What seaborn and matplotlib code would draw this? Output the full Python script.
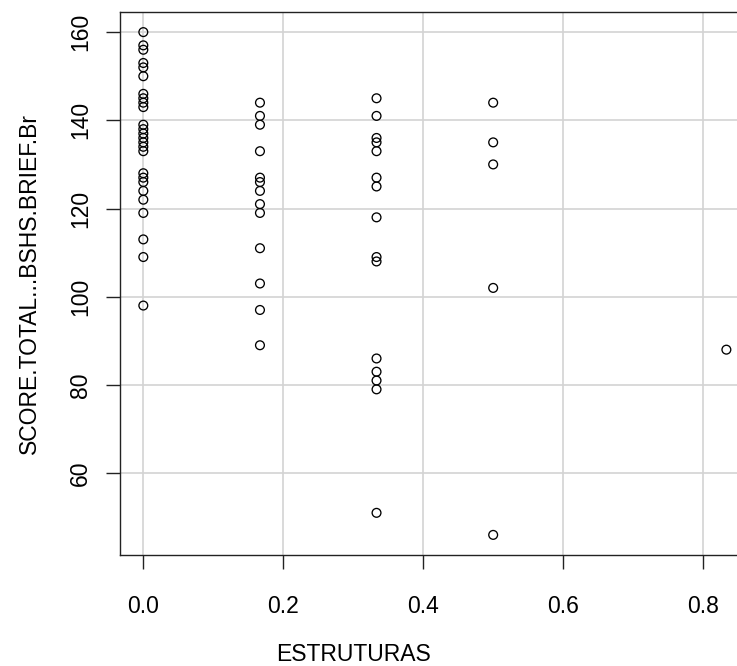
import matplotlib
matplotlib.use("Agg")
import matplotlib.pyplot as plt
import seaborn as sns
import pandas as pd

# ---- data ----
estruturas_levels = [0.0, 0.1667, 0.3333, 0.5, 0.8333]
score_0 = [160, 157, 156, 153, 152, 150, 146, 145, 144, 143, 139, 138, 137, 136,
           135, 134, 133, 128, 127, 126, 124, 122, 119, 113, 109, 98]
score_1 = [144, 141, 139, 133, 127, 126, 124, 121, 119, 111, 103, 97, 89]
score_2 = [145, 141, 136, 135, 133, 127, 125, 118, 109, 108, 86, 83, 81, 79, 51]
score_3 = [144, 135, 130, 102, 46]
score_4 = [88]
x_ticks = [0.0, 0.2, 0.4, 0.6, 0.8]
x_tick_labels = ["0.0", "0.2", "0.4", "0.6", "0.8"]
y_ticks = [60, 80, 100, 120, 140, 160]
y_tick_labels = ["60", "80", "100", "120", "140", "160"]
x_label = "ESTRUTURAS"
y_label = "SCORE.TOTAL...BSHS.BRIEF.Br"

groups = [score_0, score_1, score_2, score_3, score_4]
xs, ys = [], []
for lvl, g in zip(estruturas_levels, groups):
    xs += [lvl] * len(g)
    ys += g
df = pd.DataFrame({x_label: xs, y_label: ys})

sns.set_theme(style="white")
plt.rcParams["font.family"] = ["Liberation Sans", "DejaVu Sans"]

fig = plt.figure(figsize=(7.37, 6.66), dpi=100)
ax = fig.add_axes([120 / 737, (666 - 555) / 666, 629.7 / 737, 543 / 666])

sns.scatterplot(data=df, x=x_label, y=y_label, ax=ax, marker="o", s=40,
                facecolor="none", edgecolor="black", linewidth=0.95, zorder=3)

xmin, xmax = min(xs), max(xs)
ymin, ymax = min(ys), max(ys)
ax.set_xlim(xmin - 0.04 * (xmax - xmin), xmax + 0.04 * (xmax - xmin))
ax.set_ylim(ymin - 0.04 * (ymax - ymin), ymax + 0.04 * (ymax - ymin))

ax.set_xticks(x_ticks)
ax.set_xticklabels(x_tick_labels)
ax.set_yticks(y_ticks)
ax.set_yticklabels(y_tick_labels, rotation=90, va="center")

ax.grid(True, color="#d3d3d3", linewidth=1.2)
ax.set_axisbelow(True)

for sp in ax.spines.values():
    sp.set_visible(True)
    sp.set_color("#222222")
    sp.set_linewidth(1.0)

ax.tick_params(axis="both", direction="out", length=10, width=1.0,
               color="#222222", labelsize=16.5, labelcolor="black",
               bottom=True, left=True)
ax.tick_params(axis="x", pad=19)
ax.tick_params(axis="y", pad=10)

ax.set_xlabel(x_label, fontsize=16.5, color="black")
ax.set_ylabel(y_label, fontsize=16.5, color="black")
ax.xaxis.set_label_coords((353 - 120) / 629.7, (555 - 643) / 543)
ax.yaxis.set_label_coords((41 - 120) / 629.7, 0.5)

fig.savefig("out.png", dpi=100)
